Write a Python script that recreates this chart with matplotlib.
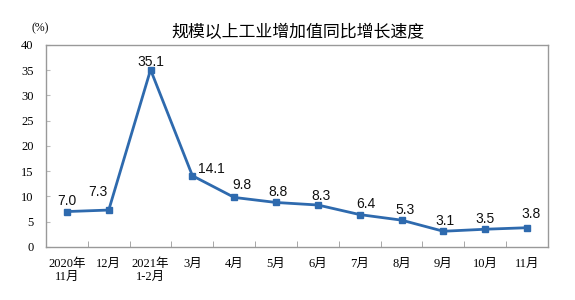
import matplotlib
matplotlib.use("Agg")
import matplotlib.pyplot as plt
import numpy as np

categories = ["2020年\n11月", "12月", "2021年\n1-2月", "3月", "4月", "5月", "6月",
              "7月", "8月", "9月", "10月", "11月"]
values = [7.0, 7.3, 35.1, 14.1, 9.8, 8.8, 8.3, 6.4, 5.3, 3.1, 3.5, 3.8]
labels = ["7.0", "7.3", "35.1", "14.1", "9.8", "8.8", "8.3", "6.4", "5.3", "3.1", "3.5", "3.8"]
yticks = [0, 5, 10, 15, 20, 25, 30, 35, 40]
title = "规模以上工业增加值同比增长速度"
unit = "(%)"

serif = ["Liberation Serif", "Noto Sans CJK SC"]
cjk = ["Noto Sans CJK SC", "DejaVu Sans"]

fig = plt.figure(figsize=(5.75, 3.0), dpi=100)
ax = fig.add_axes([0.080, 0.177, 0.873, 0.673])

x = np.arange(len(values))
color = "#2E6AAE"
ax.plot(x, values, color=color, lw=2.0, marker="s", markersize=4, zorder=3)

# label offsets (pixels) relative to each point
offsets_px = [(0, 11), (-11, 18), (0, 8), (19, 7), (8, 12), (2, 10), (3, 9),
              (6, 11), (3, 10), (2, 10), (0, 10), (4, 14)]
for xi, v, lab, off in zip(x, values, labels, offsets_px):
    ax.annotate(lab, (xi, v), xytext=(off[0] * 0.72, off[1] * 0.72), textcoords="offset points",
                ha="center", va="center", fontsize=10, family="Liberation Sans", color="#111111")

ax.set_xlim(-0.5, len(values) - 0.5)
ax.set_ylim(0, 40)
ax.set_yticks(yticks)
ax.set_yticklabels([str(t) for t in yticks], family=serif, fontsize=9)
ax.set_xticks(x)
ax.set_xticklabels(categories, family=serif, fontsize=9, linespacing=1.15)
ax.tick_params(axis="x", length=0, pad=8)
ax.set_xticks(np.arange(-0.5, len(values), 1.0), minor=True)
ax.tick_params(axis="x", which="minor", direction="in", length=4, color="#999999")
ax.tick_params(axis="y", direction="in", length=3, color="#BBBBBB", pad=9)

for s in ax.spines.values():
    s.set_color("#999999")
    s.set_linewidth(1.0)

fig.text(0.518, 0.894, title, ha="center", va="center", fontsize=12.2, family=cjk)
fig.text(0.070, 0.905, unit, ha="center", va="center", fontsize=8.5, family=serif)

fig.savefig("out.png", dpi=100)
